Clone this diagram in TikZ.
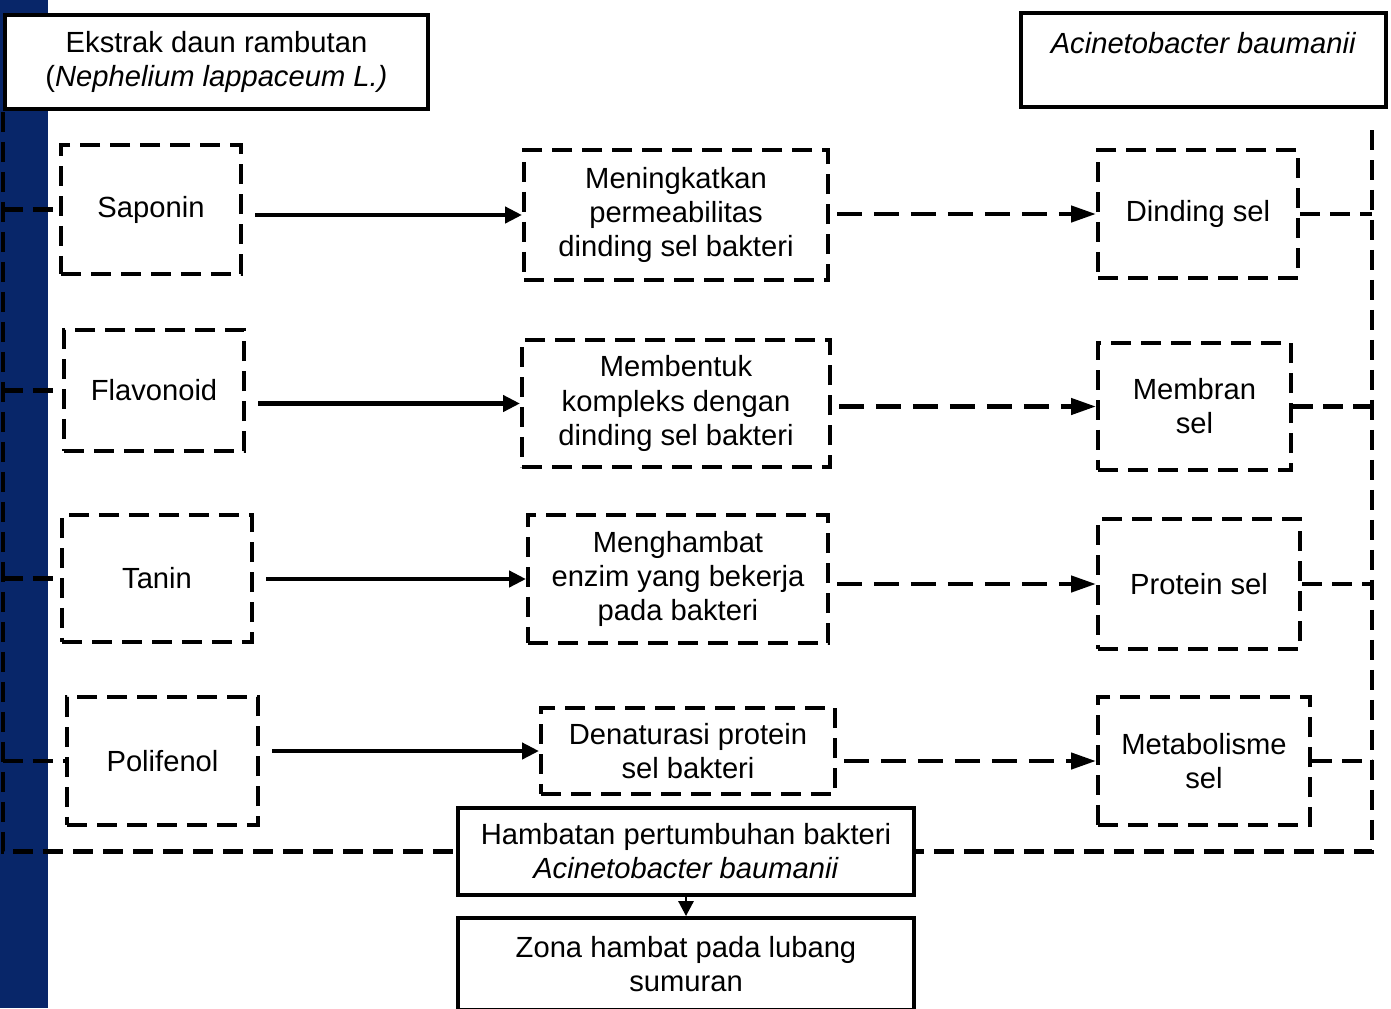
\documentclass[tikz,border=0pt]{standalone}
\usepackage{fontspec}
\setmainfont{Liberation Sans}
\usetikzlibrary{arrows.meta}
\definecolor{barblue}{RGB}{8,38,105}
\tikzset{
  solidbox/.style={draw, line width=2.2pt, fill=white, align=center, inner sep=0pt},
  dashbox/.style={draw, line width=2.3pt, dash pattern=on 0.4cm off 0.2cm, fill=white, align=center, inner sep=0pt},
  flow/.style={line width=2.5pt, shorten <=0.24cm, -{Triangle[length=0.34cm,width=0.32cm]}},
  dashflow/.style={line width=2.5pt, shorten <=0.14cm, dash pattern=on 0.5cm off 0.24cm, -{Triangle[length=0.5cm,width=0.32cm]}},
  bus/.style={line width=2.5pt, dash pattern=on 0.4cm off 0.2cm},
}
\begin{document}
\begin{tikzpicture}[x=0.02cm, y=-0.02cm, font=\fontsize{16.6pt}{19.4pt}\selectfont]
   \fill[white] (0,0) rectangle (1391,1008);
   \useasboundingbox (0,0) rectangle (1391,1008);
   \fill[barblue] (0,0) rectangle (48,1008);

   \node[solidbox, minimum width=8.46cm, minimum height=1.88cm] (ekstrak) at (216.5,62)
      {Ekstrak daun rambutan\\(\textit{Nephelium lappaceum L.)}};
   \node[solidbox, minimum width=7.3cm, minimum height=1.88cm] (bakteri) at (1203.5,60)
      {\textit{Acinetobacter baumanii}\\[-0.2cm]\strut};

   \node[dashbox, minimum width=3.6cm, minimum height=2.58cm] (saponin) at (151,209.5) {Saponin};
   \node[dashbox, minimum width=3.6cm, minimum height=2.42cm] (flavonoid) at (154,390.5) {Flavonoid};
   \node[dashbox, minimum width=3.8cm, minimum height=2.54cm] (tanin) at (157,578.5) {Tanin};
   \node[dashbox, minimum width=3.82cm, minimum height=2.56cm] (polifenol) at (162.5,761) {Polifenol};

   \node[dashbox, minimum width=6.08cm, minimum height=2.6cm] (meningkatkan) at (676,215)
      {Meningkatkan\\permeabilitas\\dinding sel bakteri};
   \node[dashbox, minimum width=6.16cm, minimum height=2.54cm] (membentuk) at (676,403.5)
      {Membentuk\\kompleks dengan\\dinding sel bakteri};
   \node[dashbox, minimum width=6.0cm, minimum height=2.56cm] (menghambat) at (678,579)
      {Menghambat\\enzim yang bekerja\\pada bakteri};
   \node[dashbox, minimum width=5.88cm, minimum height=1.72cm] (denaturasi) at (688,751)
      {Denaturasi protein\\sel bakteri};

   \node[dashbox, minimum width=4.0cm, minimum height=2.56cm] (dinding) at (1198,214) {Dinding sel};
   \node[dashbox, minimum width=3.86cm, minimum height=2.54cm] (membran) at (1194.5,406.5) {Membran\\sel};
   \node[dashbox, minimum width=4.04cm, minimum height=2.6cm] (protein) at (1199,584) {Protein sel};
   \node[dashbox, minimum width=4.24cm, minimum height=2.56cm] (metabolisme) at (1204,761) {Metabolisme\\sel};

   \node[solidbox, minimum width=9.12cm, minimum height=1.74cm] (hambatan) at (686,851.5)
      {Hambatan pertumbuhan bakteri\\\textit{Acinetobacter baumanii}};
   \node[solidbox, minimum width=9.12cm, minimum height=1.84cm] (zona) at (686,964)
      {Zona hambat pada lubang\\sumuran};

   \coordinate (lbus) at (3,112);
   \coordinate (rbus) at (1372,130);
   \draw[bus] (lbus) |- (hambatan.west);
   \draw[bus] (rbus) |- (hambatan.east);
   \foreach \n in {saponin,flavonoid,tanin,polifenol}
      \draw[bus] (\n.west -| lbus) -- (\n.west);
   \foreach \n in {dinding,membran,protein,metabolisme}
      \draw[bus] (\n.east) -- (\n.east -| rbus);

   \foreach \a/\b in {saponin/meningkatkan,flavonoid/membentuk,tanin/menghambat,polifenol/denaturasi}
      \draw[flow] (\b.west -| \a.east) -- (\b.west);
   \foreach \a/\b in {meningkatkan/dinding,membentuk/membran,menghambat/protein,denaturasi/metabolisme}
      \draw[dashflow] (\b.west -| \a.east) -- (\b.west);

   \draw[line width=1.6pt, -{Triangle[length=0.3cm,width=0.3cm]}] (hambatan.south) -- (zona.north);
\end{tikzpicture}
\end{document}
